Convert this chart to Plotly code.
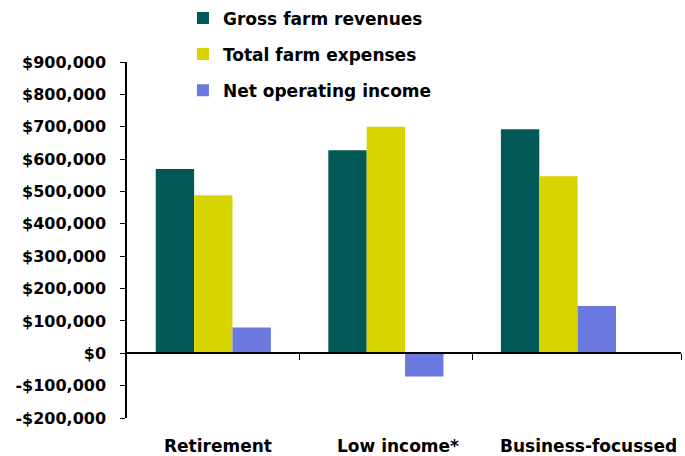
import plotly.graph_objects as go

categories = ["Retirement", "Low income*", "Business-focussed"]
gross_revenues = [569000, 627000, 692000]
total_expenses = [488000, 700000, 547000]
net_income = [80000, -72000, 146000]
y_tickvals = [-200000, -100000, 0, 100000, 200000, 300000, 400000, 500000, 600000, 700000, 800000, 900000]
y_ticktext = ["-$200,000", "-$100,000", "$0", "$100,000", "$200,000", "$300,000", "$400,000",
              "$500,000", "$600,000", "$700,000", "$800,000", "$900,000"]

FONT = "DejaVu Sans"
xs = list(range(len(categories)))
ymin, ymax = -200000, 900000

fig = go.Figure()
series = [("Gross farm revenues", gross_revenues, "#025856"),
          ("Total farm expenses", total_expenses, "#D8D400"),
          ("Net operating income", net_income, "#6A78DF")]
for name, vals, col in series:
    fig.add_trace(go.Bar(x=xs, y=vals, name=name, marker=dict(color=col, line=dict(width=0)),
                         legendgroup=name))

label_shift = [5, 12, 30]
for i, c in enumerate(categories):
    fig.add_annotation(x=i, xref="x", y=0, yref="paper", yanchor="top", yshift=-16,
                       xshift=label_shift[i], text="<b>%s</b>" % c, showarrow=False,
                       font=dict(family=FONT, size=17, color="black"))

fig.update_layout(
    width=685, height=456,
    margin=dict(l=127, r=4, t=62, b=38, autoexpand=False),
    paper_bgcolor="white", plot_bgcolor="white",
    barmode="group", bargap=0.333, bargroupgap=0,
    font=dict(family=FONT, size=16, color="black"),
    showlegend=True,
    legend=dict(x=0.101, y=1.173, xanchor="left", yanchor="top", traceorder="grouped",
                tracegroupgap=11, font=dict(family=FONT, size=17, color="black", weight="bold"),
                bgcolor="rgba(0,0,0,0)"),
    xaxis=dict(range=[-0.5, 2.71], anchor="free", position=(0 - ymin) / (ymax - ymin),
               showline=True, linecolor="black", linewidth=1.5, showgrid=False, zeroline=False,
               ticks="outside", ticklen=6, tickcolor="black", tickvals=[0.5, 1.5, 2.71],
               showticklabels=False),
    yaxis=dict(range=[ymin, ymax], tickvals=y_tickvals, ticktext=y_ticktext,
               showline=True, linecolor="black", linewidth=1.5, showgrid=False, zeroline=False,
               ticks="outside", ticklen=5, tickcolor="black", ticklabelstandoff=11,
               tickfont=dict(family=FONT, size=16, color="black", weight="bold")),
)
fig.write_html("out.html")
